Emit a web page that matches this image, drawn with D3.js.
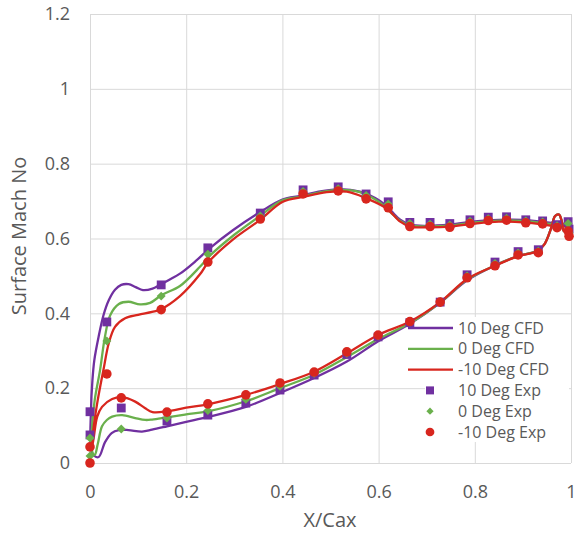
<!DOCTYPE html>
<html>
<head>
<meta charset="utf-8">
<script src="https://cdn.jsdelivr.net/npm/d3@7"></script>
<style>
  html, body { margin: 0; padding: 0; background: #ffffff; }
  svg { display: block; }
  text { font-family: "Open Sans", "Liberation Sans", sans-serif; fill: #595959; }
</style>
</head>
<body>
<svg id="chart" width="578" height="535"></svg>
<script>
// ---------------- DATA ----------------
const xTicks = [0, 0.2, 0.4, 0.6, 0.8, 1];
const xTickLabels = ["0", "0.2", "0.4", "0.6", "0.8", "1"];
const yTicks = [0, 0.2, 0.4, 0.6, 0.8, 1, 1.2];
const yTickLabels = ["0", "0.2", "0.4", "0.6", "0.8", "1", "1.2"];

const seriesNames = ["10 Deg CFD", "0 Deg CFD", "-10 Deg CFD", "10 Deg Exp", "0 Deg Exp", "-10 Deg Exp"];
const seriesColors = ["#7030A0", "#6AB04C", "#D8261E"];

// CFD curves: suction side (leading edge -> trailing edge) and pressure side (leading edge -> trailing edge)
const cfd10Upper = [[0.002,0.04],[0.002,0.14],[0.005,0.22],[0.009,0.275],[0.018,0.338],[0.028,0.395],[0.039,0.435],[0.052,0.463],[0.065,0.476],[0.08,0.478],[0.095,0.47],[0.11,0.462],[0.13,0.466],[0.145,0.476],[0.165,0.49],[0.187,0.506],[0.22,0.54],[0.25,0.575],[0.297,0.622],[0.353,0.67],[0.4,0.704],[0.437,0.714],[0.471,0.724],[0.52,0.732],[0.561,0.725],[0.603,0.7],[0.625,0.675],[0.645,0.65],[0.665,0.637],[0.7,0.634],[0.75,0.638],[0.8,0.646],[0.85,0.65],[0.9,0.65],[0.94,0.645],[0.97,0.64],[0.99,0.638],[1.0,0.636]];
const cfd10Lower = [[0.002,0.04],[0.008,0.02],[0.018,0.016],[0.031,0.055],[0.045,0.08],[0.06,0.088],[0.08,0.088],[0.108,0.084],[0.129,0.089],[0.16,0.098],[0.2,0.11],[0.245,0.123],[0.324,0.15],[0.395,0.187],[0.466,0.227],[0.534,0.271],[0.6,0.326],[0.665,0.372],[0.728,0.428],[0.784,0.488],[0.842,0.528],[0.89,0.553],[0.93,0.567],[0.945,0.585],[0.958,0.625],[0.967,0.66],[0.975,0.664],[0.981,0.645],[0.985,0.62],[0.992,0.618],[1.0,0.636]];

const cfd0Upper = [[0.003,0.05],[0.004,0.09],[0.01,0.17],[0.021,0.249],[0.031,0.337],[0.042,0.395],[0.06,0.425],[0.08,0.431],[0.104,0.424],[0.125,0.428],[0.149,0.449],[0.187,0.473],[0.229,0.525],[0.25,0.555],[0.3,0.61],[0.353,0.66],[0.4,0.702],[0.44,0.712],[0.48,0.724],[0.52,0.73],[0.561,0.724],[0.603,0.696],[0.625,0.67],[0.645,0.647],[0.665,0.635],[0.7,0.632],[0.75,0.635],[0.8,0.643],[0.85,0.648],[0.9,0.647],[0.94,0.642],[0.97,0.636],[0.99,0.634],[1.0,0.632]];
const cfd0Lower = [[0.003,0.05],[0.006,0.025],[0.01,0.022],[0.016,0.05],[0.025,0.098],[0.035,0.115],[0.046,0.124],[0.067,0.128],[0.094,0.12],[0.115,0.115],[0.129,0.116],[0.16,0.122],[0.2,0.13],[0.245,0.138],[0.324,0.165],[0.395,0.2],[0.466,0.236],[0.534,0.283],[0.6,0.332],[0.665,0.374],[0.728,0.429],[0.784,0.49],[0.842,0.528],[0.89,0.553],[0.93,0.567],[0.945,0.585],[0.958,0.625],[0.967,0.66],[0.975,0.664],[0.981,0.645],[0.985,0.62],[0.992,0.618],[1.0,0.632]];

const cfdM10Upper = [[0.004,0.04],[0.008,0.1],[0.015,0.16],[0.022,0.21],[0.028,0.249],[0.039,0.32],[0.052,0.364],[0.073,0.387],[0.1,0.396],[0.129,0.404],[0.146,0.41],[0.187,0.446],[0.229,0.505],[0.245,0.535],[0.297,0.597],[0.353,0.649],[0.401,0.698],[0.443,0.711],[0.492,0.724],[0.534,0.725],[0.575,0.707],[0.617,0.68],[0.645,0.645],[0.665,0.632],[0.7,0.63],[0.75,0.632],[0.8,0.64],[0.85,0.645],[0.9,0.643],[0.94,0.638],[0.97,0.632],[0.99,0.632],[1.0,0.628]];
const cfdM10Lower = [[0.004,0.04],[0.008,0.07],[0.015,0.124],[0.025,0.15],[0.046,0.171],[0.067,0.176],[0.094,0.164],[0.114,0.147],[0.13,0.136],[0.16,0.138],[0.2,0.148],[0.245,0.157],[0.324,0.182],[0.395,0.211],[0.466,0.244],[0.534,0.293],[0.599,0.342],[0.665,0.378],[0.728,0.43],[0.784,0.492],[0.842,0.527],[0.89,0.553],[0.93,0.566],[0.945,0.585],[0.958,0.625],[0.967,0.66],[0.975,0.664],[0.981,0.645],[0.985,0.62],[0.992,0.618],[1.0,0.628]];

// Experimental data
const expUpperX = [0, 0.035, 0.148, 0.245, 0.354, 0.443, 0.516, 0.574, 0.62, 0.665, 0.707, 0.748, 0.79, 0.828, 0.866, 0.906, 0.941, 0.971, 0.994];
const exp10Upper = [0.137, 0.377, 0.476, 0.575, 0.668, 0.73, 0.738, 0.719, 0.698, 0.643, 0.643, 0.64, 0.65, 0.657, 0.658, 0.65, 0.647, 0.637, 0.645];
const exp0Upper = [0.067, 0.326, 0.446, 0.558, 0.66, 0.726, 0.733, 0.715, 0.692, 0.64, 0.638, 0.636, 0.646, 0.653, 0.654, 0.647, 0.644, 0.634, 0.64];
const expM10Upper = [0.043, 0.238, 0.41, 0.537, 0.652, 0.719, 0.727, 0.706, 0.682, 0.632, 0.632, 0.63, 0.64, 0.648, 0.649, 0.642, 0.639, 0.629, 0.62];

const expLowerX = [0, 0.065, 0.16, 0.245, 0.324, 0.395, 0.466, 0.534, 0.599, 0.665, 0.728, 0.784, 0.842, 0.89, 0.932, 0.996];
const exp10Lower = [0.075, 0.147, 0.112, 0.128, 0.16, 0.195, 0.235, 0.29, 0.337, 0.375, 0.43, 0.503, 0.537, 0.565, 0.57, 0.625];
const exp0Lower = [0.019, 0.091, 0.12, 0.14, 0.17, 0.205, 0.24, 0.293, 0.34, 0.376, 0.432, 0.5, 0.533, 0.561, 0.566, 0.615];
const expM10Lower = [0.0, 0.174, 0.136, 0.158, 0.182, 0.214, 0.243, 0.297, 0.342, 0.378, 0.43, 0.495, 0.527, 0.556, 0.562, 0.606];

// ---------------- CHART ----------------
const svg = d3.select("#chart");
const margin = { left: 90, right: 7, top: 14, bottom: 72 };
const W = 578, H = 535;
const x = d3.scaleLinear().domain([0, 1]).range([margin.left, W - margin.right]);
const y = d3.scaleLinear().domain([0, 1.2]).range([H - margin.bottom, margin.top]);
const plotW = x(1) - x(0), plotH = y(0) - y(1.2);

// gridlines + tick labels via axes
const gx = svg.append("g").attr("transform", `translate(0,${y(0)})`)
  .call(d3.axisBottom(x).tickValues(xTicks).tickSize(-plotH).tickPadding(22)
    .tickFormat((d, i) => xTickLabels[i]));
const gy = svg.append("g").attr("transform", `translate(${x(0)},0)`)
  .call(d3.axisLeft(y).tickValues(yTicks).tickSize(-plotW).tickPadding(20)
    .tickFormat((d, i) => yTickLabels[i]));
[gx, gy].forEach(g => {
  g.select(".domain").remove();
  g.selectAll(".tick line").attr("stroke", "#d9d9d9").attr("stroke-width", 1);
  g.selectAll(".tick text").attr("fill", "#595959").style("font-size", "18px");
});

// axis titles
svg.append("text").attr("x", 330).attr("y", 527).attr("text-anchor", "middle")
  .style("font-size", "20px").text("X/Cax");
svg.append("text").attr("transform", "translate(26,236) rotate(-90)").attr("text-anchor", "middle")
  .style("font-size", "20px").text("Surface Mach No");

// CFD curves
const line = d3.line().x(d => x(d[0])).y(d => y(d[1])).curve(d3.curveCatmullRom.alpha(0.5));
const cfdSeries = [
  { upper: cfd10Upper, lower: cfd10Lower, color: seriesColors[0] },
  { upper: cfd0Upper, lower: cfd0Lower, color: seriesColors[1] },
  { upper: cfdM10Upper, lower: cfdM10Lower, color: seriesColors[2] }
];
cfdSeries.forEach(s => {
  const loop = s.upper.slice().reverse().concat(s.lower.slice(1));
  svg.append("path").datum(loop).attr("d", line)
    .attr("fill", "none").attr("stroke", s.color).attr("stroke-width", 2.3)
    .attr("stroke-linejoin", "round").attr("stroke-linecap", "round");
});

// Experimental markers (diamond = square rotated 45 degrees)
const sq = d3.symbol().type(d3.symbolSquare).size(78);
const dia = d3.symbol().type(d3.symbolSquare).size(40);
const circ = d3.symbol().type(d3.symbolCircle).size(72);
const expSeries = [
  { ux: expUpperX, uy: exp10Upper, lx: expLowerX, ly: exp10Lower, sym: sq, rot: 0, color: seriesColors[0] },
  { ux: expUpperX, uy: exp0Upper, lx: expLowerX, ly: exp0Lower, sym: dia, rot: 45, color: seriesColors[1] },
  { ux: expUpperX, uy: expM10Upper, lx: expLowerX, ly: expM10Lower, sym: circ, rot: 0, color: seriesColors[2] }
];
expSeries.forEach(s => {
  const pts = s.ux.map((v, i) => [v, s.uy[i]]).concat(s.lx.map((v, i) => [v, s.ly[i]]));
  svg.append("g").selectAll("path").data(pts).join("path")
    .attr("d", s.sym)
    .attr("transform", d => `translate(${x(d[0])},${y(d[1])}) rotate(${s.rot})`)
    .attr("fill", s.color);
});

// Legend
const lg = svg.append("g");
lg.append("rect").attr("x", 425).attr("y", 317).attr("width", 144).attr("height", 125).attr("fill", "#ffffff");
const rowY = d3.scaleLinear().domain([0, 5]).range([328, 432]);
const legendSyms = [
  { sym: d3.symbol().type(d3.symbolSquare).size(64), rot: 0 },
  { sym: d3.symbol().type(d3.symbolSquare).size(26), rot: 45 },
  { sym: d3.symbol().type(d3.symbolCircle).size(60), rot: 0 }
];
seriesNames.forEach((name, i) => {
  const cy = rowY(i);
  const col = seriesColors[i % 3];
  if (i < 3) {
    lg.append("line").attr("x1", 408).attr("x2", 453).attr("y1", cy).attr("y2", cy)
      .attr("stroke", col).attr("stroke-width", 2.3);
  } else {
    const ls = legendSyms[i - 3];
    lg.append("path").attr("d", ls.sym).attr("transform", `translate(430,${cy}) rotate(${ls.rot})`).attr("fill", col);
  }
  lg.append("text").attr("x", 458).attr("y", cy).attr("dy", "0.35em")
    .style("font-size", "16px").text(name);
});
</script>
</body>
</html>
